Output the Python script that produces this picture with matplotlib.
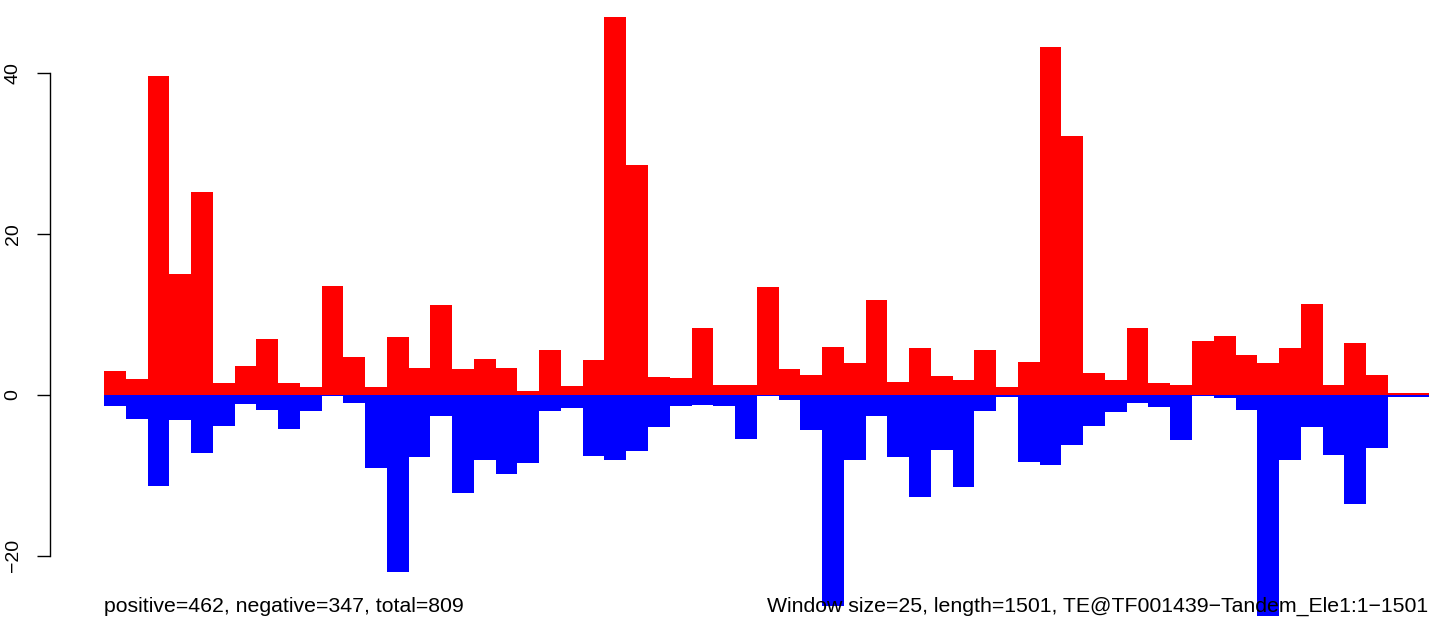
import numpy as np
import matplotlib as mpl
import matplotlib.pyplot as plt

mpl.use('Agg')
plt.rcParams['font.family'] = ['Liberation Sans', 'DejaVu Sans']

window = 25
length = 1501
starts = np.arange(0, length, window)

positive = [3.0, 2.0, 39.7, 15.1, 25.2, 1.5, 3.6, 7.0, 1.5, 1.0,
            13.6, 4.7, 1.0, 7.2, 3.4, 11.2, 3.2, 4.5, 3.4, 0.5,
            5.6, 1.1, 4.3, 47.0, 28.6, 2.2, 2.1, 8.3, 1.2, 1.2,
            13.4, 3.2, 2.5, 6.0, 4.0, 11.8, 1.6, 5.8, 2.4, 1.9,
            5.6, 1.0, 4.1, 43.3, 32.2, 2.7, 1.9, 8.3, 1.5, 1.3,
            6.7, 7.4, 5.0, 4.0, 5.8, 11.3, 1.3, 6.5, 2.5, 0.2, 0.2]
negative = [-1.4, -3.0, -11.3, -3.1, -7.2, -3.9, -1.1, -1.9, -4.2, -2.0,
            -0.1, -1.0, -9.1, -22.0, -7.7, -2.6, -12.2, -8.1, -9.8, -8.4,
            -2.0, -1.6, -7.6, -8.1, -7.0, -4.0, -1.4, -1.3, -1.4, -5.5,
            -0.1, -0.6, -4.4, -26.3, -8.1, -2.6, -7.7, -12.7, -6.8, -11.4,
            -2.0, -0.2, -8.3, -8.7, -6.2, -3.9, -2.1, -1.0, -1.5, -5.6,
            -0.1, -0.4, -1.9, -27.5, -8.1, -4.0, -7.5, -13.6, -6.6, -0.2, -0.2]
yticks = [-20, 0, 20, 40]

left_text = "positive=462, negative=347, total=809"
right_text = "Window size=25, length=1501, TE@TF001439\u2212Tandem_Ele1:1\u22121501"

W, H = 1429, 621
fig = plt.figure(figsize=(W / 100, H / 100), dpi=100)
ax = fig.add_axes([50 / W, 0, (W - 50) / W, 1])

ax.bar(starts, positive, width=window, align='edge', color='#FF0000', linewidth=0)
ax.bar(starts, negative, width=window, align='edge', color='#0000FF', linewidth=0)

pxu = 21.76 / window
ax.set_xlim(-(104 - 50) / pxu, (W - 104) / pxu)
ppy = 8.04
ax.set_ylim((395 - H) / ppy, 395 / ppy)

for s in ['top', 'right', 'bottom']:
    ax.spines[s].set_visible(False)
ax.spines['left'].set_bounds(-20, 40)
ax.spines['left'].set_linewidth(1.0)
ax.set_xticks([])
ax.set_yticks(yticks)
ax.set_yticklabels([str(v).replace('-', '\u2212') for v in yticks],
                   rotation=90, va='center', fontsize=14)
ax.tick_params(axis='y', length=9.5, width=1.0, pad=11)

ax.text(104 / W, (H - 606) / H, left_text, transform=fig.transFigure,
        ha='left', va='center', fontsize=15.3, clip_on=False, zorder=10)
ax.text(1428.5 / W, (H - 606) / H, right_text, transform=fig.transFigure,
        ha='right', va='center', fontsize=15.3, clip_on=False, zorder=10)

fig.savefig('out.png', dpi=100)
